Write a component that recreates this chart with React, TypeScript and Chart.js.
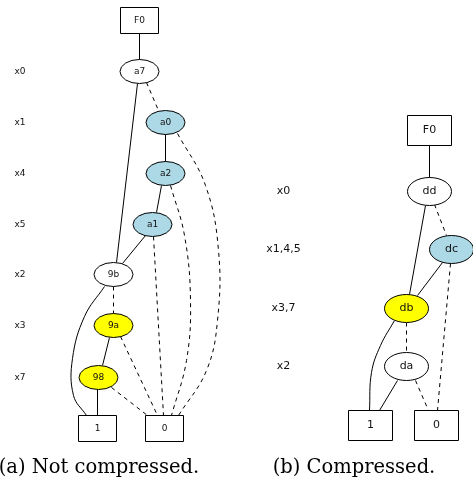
import React, { useEffect, useRef } from "react";
import { Chart, registerables } from "chart.js";

Chart.register(...registerables);

// ---- Data (diagram layout units == scale units) ----
// Left: not compressed
const leftLevelLabels = ["x0", "x1", "x4", "x5", "x2", "x3", "x7"];
const leftLevelY = [71, 122, 173, 224, 274, 325, 377];

// [label, x, y, shape, tone]
const leftNodes: [string, number, number, string, string][] = [
  ["F0", 139, 20, "box", "white"],
  ["a7", 139, 71, "ellipse", "white"],
  ["a0", 165, 122, "ellipse", "blue"],
  ["a2", 165, 173, "ellipse", "blue"],
  ["a1", 152, 224, "ellipse", "blue"],
  ["9b", 113, 274, "ellipse", "white"],
  ["9a", 113, 325, "ellipse", "yellow"],
  ["98", 98, 377, "ellipse", "yellow"],
  ["1", 97, 428, "box", "white"],
  ["0", 164, 428, "box", "white"],
];

// [dashed, points]
const leftEdges: [boolean, [number, number][]][] = [
  [false, [[139, 33], [139, 59]]],
  [false, [[137, 83], [116, 262]]],
  [true, [[146, 82], [158, 110]]],
  [false, [[165, 134], [165, 161]]],
  [true, [[177, 133], [205, 185], [218, 250], [217, 320], [206, 370], [178, 415]]],
  [false, [[161, 185], [156, 212]]],
  [true, [[170, 185], [184, 235], [190, 300], [186, 360], [171, 415]]],
  [false, [[145, 235], [122, 263]]],
  [true, [[153, 236], [163, 415]]],
  [true, [[113, 286], [113, 313]]],
  [false, [[104, 286], [84, 316], [72, 358], [73, 395], [86, 415]]],
  [false, [[109, 337], [102, 365]]],
  [true, [[120, 336], [157, 415]]],
  [false, [[97, 389], [97, 415]]],
  [true, [[111, 387], [147, 415]]],
];

// Right: compressed
const rightLevelLabels = ["x0", "x1,4,5", "x3,7", "x2"];
const rightLevelY = [191, 249, 308, 366];

const rightNodes: [string, number, number, string, string][] = [
  ["F0", 429, 130, "box", "white"],
  ["dd", 429, 191, "ellipse", "white"],
  ["dc", 451, 249, "ellipse", "blue"],
  ["db", 406, 308, "ellipse", "yellow"],
  ["da", 406, 366, "ellipse", "white"],
  ["1", 370, 425, "box", "white"],
  ["0", 436, 425, "box", "white"],
];

const rightEdges: [boolean, [number, number][]][] = [
  [false, [[429, 145], [429, 177]]],
  [false, [[425, 205], [409, 294]]],
  [true, [[434, 204], [446, 235]]],
  [false, [[442, 262], [417, 295]]],
  [true, [[450, 263], [437, 410]]],
  [true, [[406, 322], [406, 352]]],
  [false, [[394, 320], [380, 345], [371, 372], [369, 410]]],
  [false, [[397, 380], [379, 410]]],
  [true, [[415, 380], [428, 410]]],
];

const captions = ["(a) Not compressed.", "(b) Compressed."];
const captionX = [98.5, 353.5];
const captionY = 472;
const leftLabelX = 19.5;
const rightLabelX = 283;

// ---- Styles ----
const toneColor: Record<string, string> = {
  white: "#ffffff",
  blue: "#add8e6",
  yellow: "#ffff00",
};
const leftStyle = { ew: 39, eh: 24, bw: 38, bh: 26, font: 9 };
const rightStyle = { ew: 44, eh: 28, bw: 44, bh: 30, font: 11 };

function edgeDatasets(edges: [boolean, [number, number][]][]) {
  return edges.map(([dashed, pts]) => ({
    data: pts.map(([x, y]) => ({ x, y })),
    showLine: true,
    borderColor: "#000",
    borderWidth: 1,
    borderDash: dashed ? [4, 4] : [],
    pointRadius: 0,
    tension: pts.length > 2 ? 0.4 : 0,
    fill: false,
  }));
}

const diagramPlugin = {
  id: "diagram",
  beforeDraw(chart: any) {
    const ctx = chart.ctx;
    ctx.save();
    ctx.fillStyle = "#fff";
    ctx.fillRect(0, 0, chart.width, chart.height);
    ctx.restore();
  },
  afterDatasetsDraw(chart: any) {
    const ctx = chart.ctx;
    const xs = chart.scales.x;
    const ys = chart.scales.y;
    const drawNodes = (nodes: [string, number, number, string, string][], st: any) => {
      nodes.forEach(([label, x, y, shape, tone]) => {
        const px = xs.getPixelForValue(x);
        const py = ys.getPixelForValue(y);
        ctx.save();
        ctx.lineWidth = 1;
        ctx.strokeStyle = "#000";
        ctx.fillStyle = toneColor[tone];
        ctx.beginPath();
        if (shape === "box") {
          ctx.rect(px - st.bw / 2, py - st.bh / 2, st.bw, st.bh);
        } else {
          ctx.ellipse(px, py, st.ew / 2, st.eh / 2, 0, 0, Math.PI * 2);
        }
        ctx.fill();
        ctx.stroke();
        ctx.fillStyle = "#111";
        ctx.font = `${st.font}px "DejaVu Sans"`;
        ctx.textAlign = "center";
        ctx.textBaseline = "middle";
        ctx.fillText(label, px, py);
        ctx.restore();
      });
    };
    drawNodes(leftNodes, leftStyle);
    drawNodes(rightNodes, rightStyle);

    const drawLevels = (labels: string[], lys: number[], lx: number, font: number) => {
      ctx.save();
      ctx.fillStyle = "#111";
      ctx.font = `${font}px "DejaVu Sans"`;
      ctx.textAlign = "center";
      ctx.textBaseline = "middle";
      labels.forEach((t, i) => {
        ctx.fillText(t, xs.getPixelForValue(lx), ys.getPixelForValue(lys[i]));
      });
      ctx.restore();
    };
    drawLevels(leftLevelLabels, leftLevelY, leftLabelX, 9);
    drawLevels(rightLevelLabels, rightLevelY, rightLabelX, 11);

    ctx.save();
    ctx.fillStyle = "#000";
    ctx.font = `19.5px "DejaVu Serif"`;
    ctx.textAlign = "center";
    ctx.textBaseline = "alphabetic";
    captions.forEach((c, i) => {
      ctx.fillText(c, xs.getPixelForValue(captionX[i]), ys.getPixelForValue(captionY));
    });
    ctx.restore();
  },
};

export default function App() {
  const ref = useRef<HTMLCanvasElement | null>(null);
  useEffect(() => {
    if (!ref.current) return;
    const chart = new Chart(ref.current, {
      type: "scatter",
      data: {
        datasets: [...edgeDatasets(leftEdges), ...edgeDatasets(rightEdges)] as any,
      },
      options: {
        responsive: false,
        animation: false,
        events: [],
        layout: { padding: 0 },
        plugins: { legend: { display: false }, tooltip: { enabled: false } },
        scales: {
          x: { type: "linear", min: -0.5, max: 472.5, display: false },
          y: { type: "linear", min: -0.5, max: 480.5, reverse: true, display: false },
        },
      },
      plugins: [diagramPlugin],
    });
    return () => chart.destroy();
  }, []);
  return (
    <div style={{ position: "absolute", left: 0, top: 0, width: 473, height: 481 }}>
      <canvas ref={ref} width={473} height={481} style={{ width: 473, height: 481 }} />
    </div>
  );
}
